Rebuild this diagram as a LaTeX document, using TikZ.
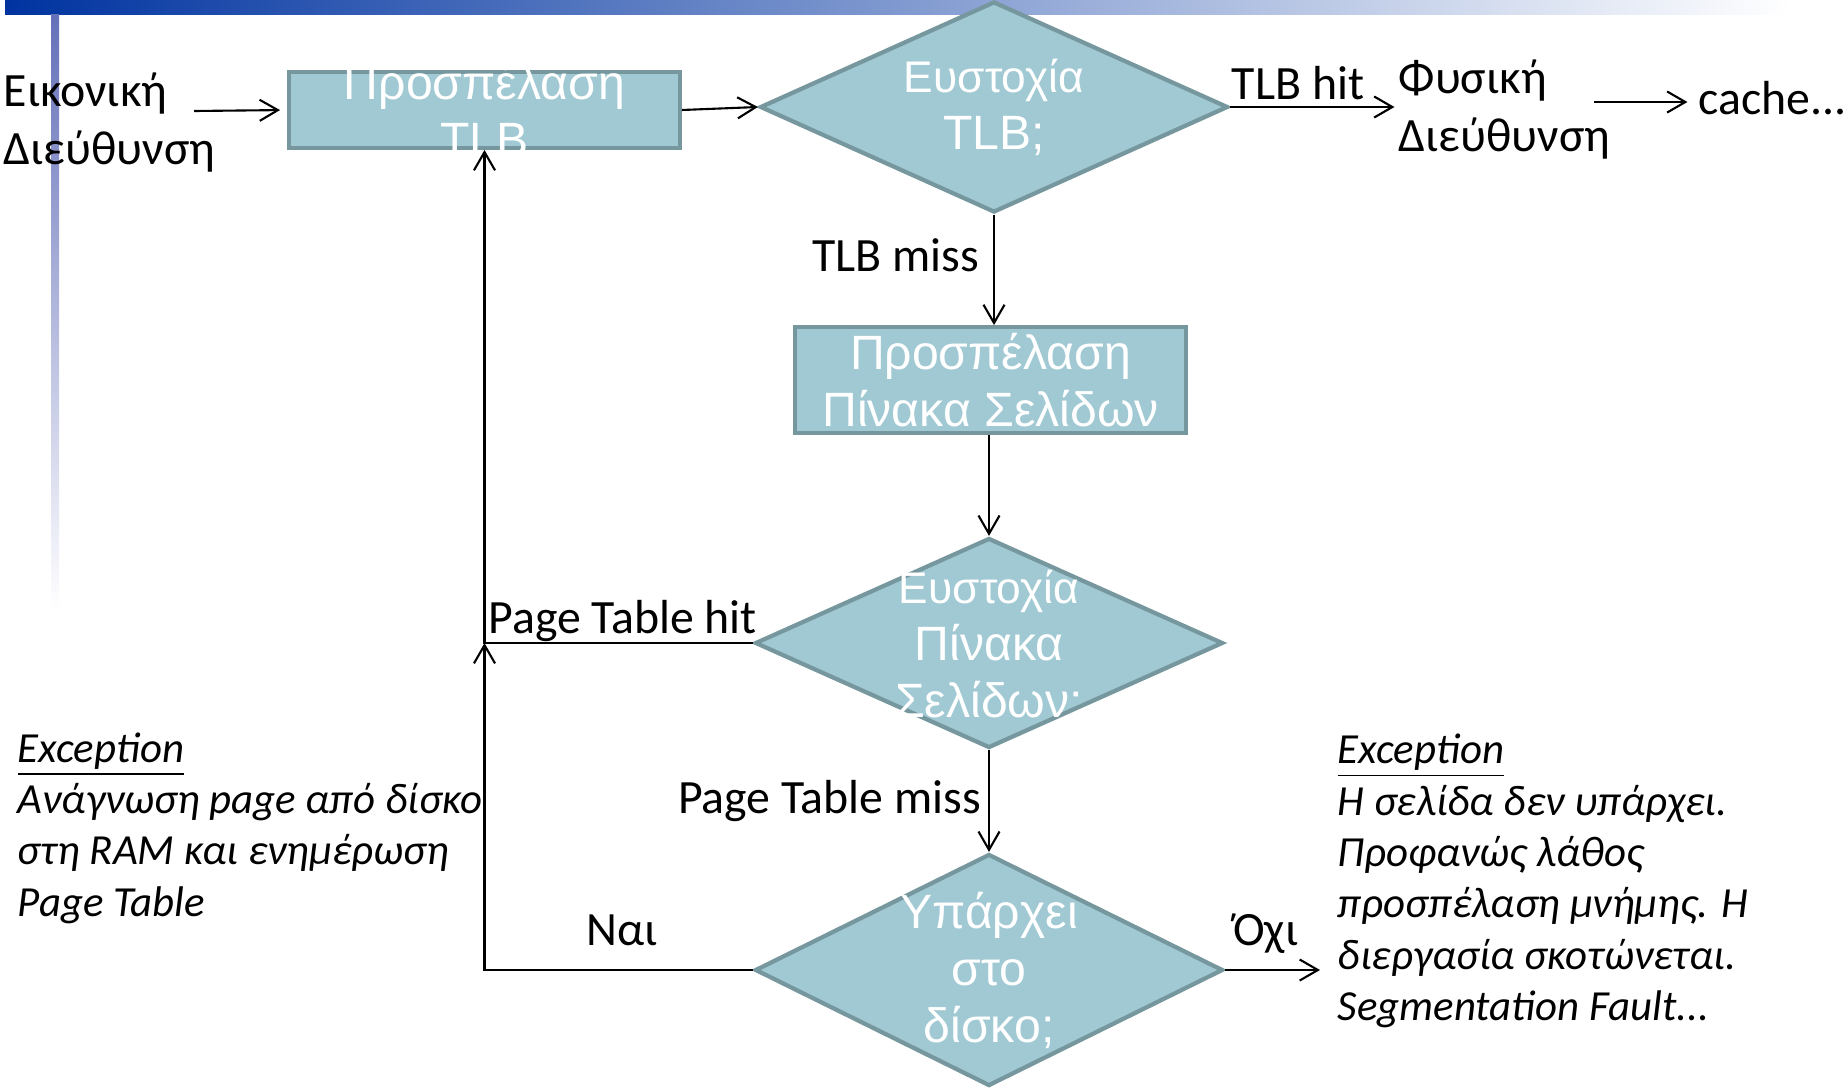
\documentclass[tikz,border=0pt]{standalone}
\usepackage{fontspec}
\setmainfont{Carlito}
\newfontfamily\shapefont{Liberation Sans}
\usetikzlibrary{shapes.geometric, arrows.meta}

\definecolor{shapefill}{RGB}{160,201,211}
\definecolor{shapeline}{RGB}{117,151,157}
\definecolor{barblue}{RGB}{0,51,160}
\definecolor{sidebar}{RGB}{100,112,185}

\newcommand{\asksize}{\fontsize{12.6}{16.2}\selectfont}

\begin{document}
\begin{tikzpicture}[
    >={Straight Barb[length=5.2pt,width=6pt]},
    flow/.style={->, line width=0.6pt},
    procbox/.style={rectangle, draw=shapeline, fill=shapefill, line width=1.1pt, minimum width=3.91cm, inner sep=0pt},
    decision/.style={diamond, draw=shapeline, fill=shapefill, line width=1.2pt, minimum width=4.68cm, minimum height=2.1cm, inner sep=0pt},
    boxtext/.style={text=white, font=\shapefont\fontsize{13.7}{16.2}\selectfont, align=center, inner sep=0pt},
    lbl/.style={font=\fontsize{13.6}{16.7}\selectfont, inner sep=0pt},
    note/.style={font=\itshape\fontsize{12.2}{14.6}\selectfont, align=left, inner sep=0pt}
]
    \useasboundingbox (0,0) rectangle (18.45,-10.88);

    % Slide decoration
    \shade[left color=barblue, right color=white] (0.05,0) rectangle (17.9,-0.14);
    \shade[top color=sidebar, bottom color=white] (0.51,-0.14) rectangle (0.59,-6.1);

    % Shapes
    \node[procbox, minimum height=0.76cm, label={[boxtext]center:{Προσπέλαση\\TLB}}] (tlbbox) at (4.845,-1.10) {};
    \node[decision, minimum height=2.11cm, label={[boxtext]center:{\asksize Ευστοχία\\TLB;}}] (tlbq) at (9.94,-1.07) {};
    \node[procbox, minimum height=1.06cm, label={[boxtext]center:{Προσπέλαση\\Πίνακα Σελίδων}}] (pagetab) at (9.905,-3.80) {};
    \node[decision, label={[boxtext, yshift=-0.035cm]center:{\asksize Ευστοχία\\Πίνακα\\Σελίδων;}}] (ptq) at (9.89,-6.43) {};
    \node[decision, minimum height=2.32cm, label={[boxtext]center:{Υπάρχει\\στο\\δίσκο;}}] (diskq) at (9.89,-9.70) {};

    % Texts
    \node[lbl, anchor=west, align=left] (vaddr) at (0.03,-1.225) {Εικονική\\Διεύθυνση};
    \node[lbl, anchor=west, align=left] (paddr) at (13.98,-1.095) {Φυσική\\Διεύθυνση};
    \node[lbl, anchor=west] (cache) at (16.98,-0.98) {cache...};
    \node[note, anchor=north west] (pfnote) at (0.17,-7.32) {\underline{Exception}\\Ανάγνωση page από δίσκο\\στη RAM και ενημέρωση\\Page Table};
    \node[note, anchor=north west] (segnote) at (13.37,-7.335) {\underline{Exception}\\Η σελίδα δεν υπάρχει.\\Προφανώς λάθος\\προσπέλαση μνήμης. Η\\διεργασία σκοτώνεται.\\Segmentation Fault...};

    % Free ends
    \coordinate (vin) at (1.94,-1.11);
    \coordinate (paout) at (15.94,-1.02);
    \coordinate (segin) at (13.20,-9.70);
    \coordinate (hitjoin) at (tlbbox.south |- ptq.west);

    % Connectors
    \draw[flow, shorten >=2pt] (vin) -- (tlbbox.west);
    \draw[flow] (tlbbox.east) -- (tlbq.west);
    \draw[flow, shorten >=1pt] (tlbq.east) -- node[lbl, above=1.6pt, xshift=-0.16cm] {TLB hit} (tlbq.east -| paddr.west);
    \draw[flow, shorten >=3pt] (paout) -- (paout -| cache.west);
    \draw[flow] (tlbq.south) -- node[lbl, left=4pt, yshift=0.145cm] {TLB miss} (tlbq.south |- pagetab.north);
    \draw[flow] (ptq.north |- pagetab.south) -- (ptq.north);
    \draw[flow] (ptq.south) -- node[lbl, left=2pt] {Page Table miss} (diskq.north);
    \draw[flow] (ptq.west) -- node[lbl, above, xshift=0.04cm] {Page Table hit} (hitjoin) -- (tlbbox.south);
    \draw[flow] (diskq.west) -- node[lbl, above=6.5pt, xshift=0.03cm] {Ναι} (diskq.west -| hitjoin) -- (hitjoin);
    \draw[flow] (diskq.east) -- node[lbl, above=4.4pt, xshift=-0.07cm] {Όχι} (segin);

\end{tikzpicture}
\end{document}
